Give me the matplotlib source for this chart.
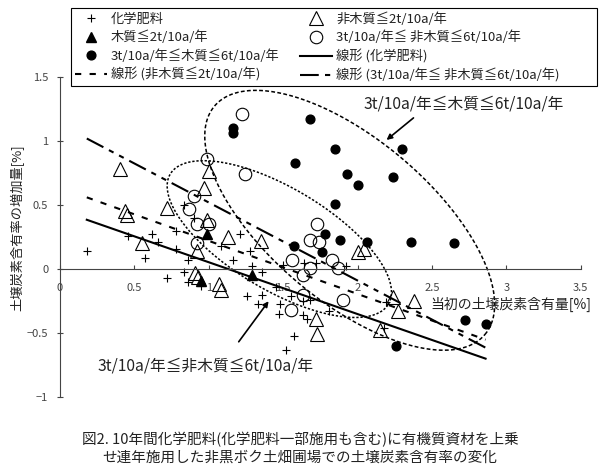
import numpy as np
import matplotlib
matplotlib.use("Agg")
import matplotlib.pyplot as plt
from matplotlib.patches import Rectangle

plt.rcParams['font.family'] = ['Noto Sans CJK JP', 'DejaVu Sans']

# ---------------- data ----------------
chem_x = [0.18, 0.46, 0.57, 0.62, 0.66, 0.78, 0.78, 0.83, 0.90, 0.86, 1.08, 1.16, 1.21, 1.28,
          1.29, 1.36, 0.83, 0.72, 0.86, 0.95, 1.26, 1.33, 1.36, 1.45, 1.48, 1.47, 1.55, 1.63,
          1.66, 1.57, 1.52, 1.50, 1.64, 1.72, 1.92, 1.63, 1.68, 1.81, 2.19, 2.18]
chem_y = [0.14, 0.26, 0.09, 0.27, 0.21, 0.30, 0.16, 0.50, 0.40, 0.07, 0.18, 0.07, 0.27, 0.14,
          0.02, -0.02, -0.02, -0.07, -0.10, -0.13, -0.21, -0.27, -0.20, -0.14, -0.27, -0.35, -0.21, -0.36,
          -0.39, -0.52, -0.63, 0.03, 0.05, 0.05, 0.02, -0.25, -0.24, -0.33, -0.26, -0.46]

nonwood2_x = [0.40, 0.44, 0.45, 0.72, 1.00, 0.97, 0.99, 0.55, 0.92, 1.13, 1.35, 0.91, 0.93,
              1.07, 1.08, 2.00, 2.04, 2.24, 2.38, 2.27, 2.15, 1.72, 1.73]
nonwood2_y = [0.78, 0.45, 0.42, 0.48, 0.77, 0.63, 0.38, 0.20, 0.14, 0.25, 0.22, -0.03, -0.06,
              -0.12, -0.16, 0.13, 0.16, -0.22, -0.25, -0.33, -0.48, -0.39, -0.51]

wood2_x = [0.99, 0.95, 1.29]
wood2_y = [0.27, -0.09, -0.05]

nonwood36_x = [1.22, 0.99, 1.24, 0.90, 0.87, 0.92, 1.00, 0.92, 1.73, 1.68, 1.74, 1.83, 1.87,
               1.56, 1.68, 1.63, 1.63, 1.90, 1.55]
nonwood36_y = [1.21, 0.86, 0.74, 0.57, 0.47, 0.35, 0.35, 0.20, 0.35, 0.23, 0.21, 0.07, 0.01,
               0.07, 0.01, -0.05, -0.20, -0.24, -0.32]

wood36_x = [1.68, 1.85, 2.30, 1.58, 1.93, 2.00, 2.24, 1.85, 1.78, 1.88, 2.06, 2.36, 2.65,
            1.57, 1.76, 1.16, 1.16, 2.72, 2.86, 2.26]
wood36_y = [1.17, 0.94, 0.94, 0.83, 0.74, 0.66, 0.72, 0.51, 0.27, 0.23, 0.21, 0.21, 0.20,
            0.18, 0.13, 1.06, 1.10, -0.40, -0.43, -0.60]

# linear trend lines (slope, intercept) and their x range
trend_slope = [-0.405, -0.415, -0.61]
trend_intercept = [0.458, 0.635, 1.13]
trend_xrange = [0.18, 2.86]

x_ticks = [0, 0.5, 1, 1.5, 2, 2.5, 3, 3.5]
x_ticklabels = ['0', '0.5', '1', '1.5', '2', '2.5', '3', '3.5']
y_ticks = [-1, -0.5, 0, 0.5, 1, 1.5]
y_ticklabels = ['\u22121', '\u22120.5', '0', '0.5', '1', '1.5']

labels = ['化学肥料', '非木質≦2t/10a/年', '木質≦2t/10a/年', '3t/10a/年≦ 非木質≦6t/10a/年',
          '3t/10a/年≦木質≦6t/10a/年', '線形 (化学肥料)', '線形 (非木質≦2t/10a/年)',
          '線形 (3t/10a/年≦ 非木質≦6t/10a/年)']

# ---------------- figure ----------------
fig = plt.figure(figsize=(6, 4.76), dpi=100)
ax = fig.add_axes([0.1, 0.166, 0.868, 0.672])
ax.set_xlim(0, 3.5)
ax.set_ylim(-1, 1.5)
for s in ['top', 'right']:
    ax.spines[s].set_visible(False)
ax.spines['bottom'].set_position(('data', 0))
ax.spines['left'].set_color('#444444')
ax.spines['bottom'].set_color('#444444')
ax.set_xticks(x_ticks)
ax.set_xticklabels(x_ticklabels)
ax.set_yticks(y_ticks)
ax.set_yticklabels(y_ticklabels)
ax.tick_params(axis='x', direction='in', length=3, pad=10, labelsize=8, colors='#444444')
ax.tick_params(axis='y', direction='inout', length=5, pad=6, labelsize=8, colors='#444444')

# scatter series
h_chem, = ax.plot(chem_x, chem_y, ls='none', marker='+', ms=6, mew=0.8, color='black')
h_nw2, = ax.plot(nonwood2_x, nonwood2_y, ls='none', marker='^', ms=10, mfc='none', mec='black', mew=0.8)
h_w2, = ax.plot(wood2_x, wood2_y, ls='none', marker='^', ms=7, color='black')
h_nw36, = ax.plot(nonwood36_x, nonwood36_y, ls='none', marker='o', ms=9, mfc='none', mec='black', mew=0.8)
h_w36, = ax.plot(wood36_x, wood36_y, ls='none', marker='o', ms=6.3, color='black')

# trend lines
tx = np.array(trend_xrange)
styles = ['-', (0, (3, 4)), (0, (9, 3, 2.5, 3, 2.5, 3))]
trend_handles = []
for k in range(3):
    h, = ax.plot(tx, trend_slope[k] * tx + trend_intercept[k], color='black', lw=1.5, ls=styles[k])
    trend_handles.append(h)

# ellipses (center in data units, semi-axes in pixels, angle in degrees)
ellipses = [(1.947, 0.381, 177, 81, -40.2, (0, (2.5, 1.5))),
            (1.474, 0.234, 127, 51, -30.8, (0, (1.5, 1.2)))]
p0 = ax.transData.transform((0, 0))
p1 = ax.transData.transform((1, 1))
sx, sy = p1[0] - p0[0], p1[1] - p0[1]
t = np.linspace(0, 2 * np.pi, 500)
for cx, cy, a, b, ang, ls in ellipses:
    ph = np.radians(ang)
    dx = a * np.cos(t) * np.cos(ph) - b * np.sin(t) * np.sin(ph)
    dy = a * np.cos(t) * np.sin(ph) + b * np.sin(t) * np.cos(ph)
    ax.plot(cx + dx / sx, cy + dy / sy, color='black', lw=1.1, ls=ls)

# annotations
ax.text(2.04, 1.29, '3t/10a/年≦木質≦6t/10a/年', fontsize=11.3, ha='left', va='center', color='#222222')
ax.annotate('', xy=(2.18, 0.995), xytext=(2.39, 1.195),
            arrowprops=dict(arrowstyle='-|>', color='black', lw=1.2, mutation_scale=8))
ax.text(0.25, -0.76, '3t/10a/年≦非木質≦6t/10a/年', fontsize=11.3, ha='left', va='center', color='#222222')
ax.annotate('', xy=(1.413, -0.234), xytext=(1.19, -0.586),
            arrowprops=dict(arrowstyle='-|>', color='black', lw=1.2, mutation_scale=8))

# axis labels
ax.text(1.021, 0.29, '当初の土壌炭素含有量[%]', transform=ax.transAxes, fontsize=10,
        ha='right', va='center', color='#222222')
fig.text(17 / 600, 1 - 228 / 476, '土壌炭素含有率の増加量[%]', rotation=90, fontsize=9.5,
         ha='center', va='center', color='#222222')

# legend frame + legend (column-first ordering to reproduce row layout)
fig.add_artist(Rectangle((71 / 600, 1 - 86 / 476), 526 / 600, 78 / 476, transform=fig.transFigure,
                         fill=True, facecolor='white', edgecolor='black', lw=0.8, zorder=5))
handles = [h_chem, h_w2, h_w36, trend_handles[1], h_nw2, h_nw36, trend_handles[0], trend_handles[2]]
leg_labels = [labels[0], labels[2], labels[4], labels[6], labels[1], labels[3], labels[5], labels[7]]
leg = fig.legend(handles, leg_labels, loc='upper left', ncol=2,
                 bbox_to_anchor=(71 / 600, 1 - 8 / 476),
                 fontsize=9.5, frameon=False, handlelength=2.4, handletextpad=0.3,
                 labelspacing=0.38, borderpad=0.3, borderaxespad=0, columnspacing=1.6)
leg.set_zorder(6)
for txt in leg.get_texts():
    txt.set_color('#222222')

# caption
fig.text(0.5, 1 - 440 / 476, '図2. 10年間化学肥料(化学肥料一部施用も含む)に有機質資材を上乗',
         ha='center', va='center', fontsize=10.5, color='#222222')
fig.text(0.5, 1 - 458 / 476, 'せ連年施用した非黒ボク土畑圃場での土壌炭素含有率の変化',
         ha='center', va='center', fontsize=10.5, color='#222222')

fig.savefig('out.png', dpi=100)
